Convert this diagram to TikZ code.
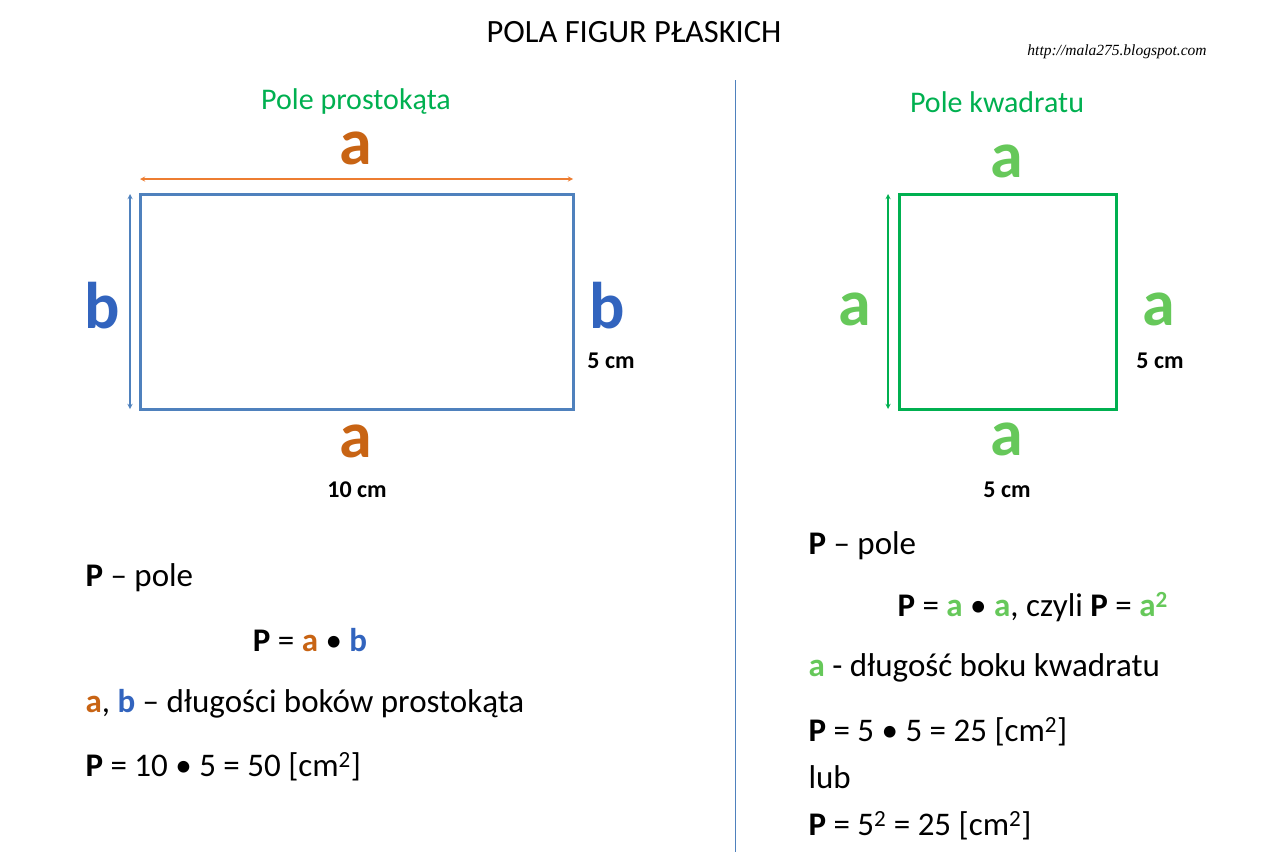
\documentclass[tikz,border=0pt]{standalone}
\usepackage{fontspec}
\setmainfont{Carlito}
\newfontfamily\urlfont{Liberation Serif}
\definecolor{tgreen}{RGB}{0,176,80}
\definecolor{lgreen}{RGB}{102,200,90}
\definecolor{orng}{RGB}{237,125,49}
\definecolor{dorng}{RGB}{200,100,20}
\definecolor{bblue}{RGB}{79,129,189}
\definecolor{dblue}{RGB}{50,100,190}
\begin{document}
\begin{tikzpicture}[x=1pt,y=-1pt,
  big/.style={font=\fontsize{66}{66}\selectfont\bfseries},
  cmlab/.style={font=\fontsize{24}{24}\selectfont\bfseries},
  txt/.style={font=\fontsize{33}{36}\selectfont,anchor=west},
  head/.style={font=\fontsize{30}{30}\selectfont,text=tgreen},
  dim/.style={<->,>=stealth,line width=1.3pt}]
\useasboundingbox (0,0) rectangle (1268,867);
\node (title) at (634,32) {\fontsize{32.5}{33}\selectfont POLA FIGUR PŁASKICH};
\node (url) at (1117,52) {\urlfont\itshape\fontsize{15.5}{16}\selectfont http://mala275.blogspot.com};
\coordinate (v1) at (735,80); \coordinate (v2) at (735,852);
\draw[bblue,line width=0.8pt] (v1) -- (v2);
% left
\node[head] (h1) at (356,102) {Pole prostokąta};
\coordinate (r1) at (140,194); \coordinate (r2) at (573,409);
\draw[bblue,line width=3pt] (r1) rectangle (r2);
\coordinate (oa) at (140,179); \coordinate (ob) at (573,179);
\draw[dim,orng] (oa) -- (ob);
\coordinate (ba) at (130,194); \coordinate (bb) at (130,409);
\draw[dim,bblue] (ba) -- (bb);
\node[big,text=dorng] (at1) at (356,148) {a};
\node[big,text=dblue] (bl) at (102,306) {b};
\node[big,text=dblue] (br) at (607,306) {b};
\node[cmlab] (c5) at (611,361) {5 cm};
\node[big,text=dorng] (ab1) at (356,441) {a};
\node[cmlab] (c10) at (357,490) {10 cm};
\node[txt] (t1) at (82,578) {\textbf{P} – pole};
\node[txt,anchor=center] (t2) at (310,640) {\textbf{P} = \textcolor{dorng}{\textbf{a}} • \textcolor{dblue}{\textbf{b}}};
\node[txt] (t3) at (82,704) {\textcolor{dorng}{\textbf{a}}, \textcolor{dblue}{\textbf{b}} – długości boków prostokąta};
\node[txt] (t4) at (82,767) {\textbf{P} = 10 • 5 = 50 [cm\textsuperscript{2}]};
% right
\node[head] (h2) at (997,102) {Pole kwadratu};
\coordinate (s1) at (899,194); \coordinate (s2) at (1116,409);
\draw[tgreen,line width=3pt] (s1) rectangle (s2);
\coordinate (ga) at (888,194); \coordinate (gb) at (888,409);
\draw[dim,tgreen] (ga) -- (gb);
\node[big,text=lgreen] (q1) at (1007,161) {a};
\node[big,text=lgreen] (q2) at (855,309) {a};
\node[big,text=lgreen] (q3) at (1159,309) {a};
\node[big,text=lgreen] (q4) at (1007,439) {a};
\node[cmlab] (c5b) at (1160,361) {5 cm};
\node[cmlab] (c5c) at (1007,490) {5 cm};
\node[txt] (u1) at (805,546) {\textbf{P} – pole};
\node[txt] (u2) at (894,607) {\textbf{P} = \textcolor{lgreen}{\textbf{a}} • \textcolor{lgreen}{\textbf{a}}, czyli \textbf{P} = \textcolor{lgreen}{\textbf{a\textsuperscript{2}}}};
\node[txt] (u3) at (805,668) {\textcolor{lgreen}{\textbf{a}} - długość boku kwadratu};
\node[txt] (u4) at (805,732) {\textbf{P} = 5 • 5 = 25 [cm\textsuperscript{2}]};
\node[txt] (u5) at (805,777) {lub};
\node[txt] (u6) at (805,826) {\textbf{P} = 5\textsuperscript{2} = 25 [cm\textsuperscript{2}]};
\end{tikzpicture}
\end{document}
